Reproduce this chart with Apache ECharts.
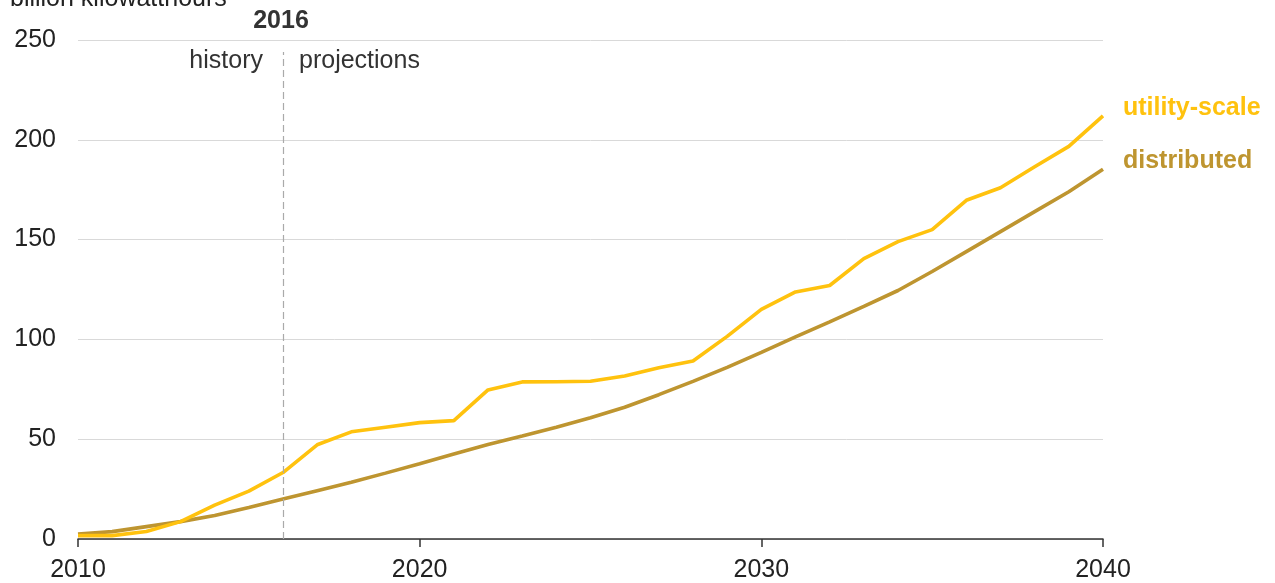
<!DOCTYPE html>
<html>
<head>
<meta charset="utf-8">
<script src="https://cdn.jsdelivr.net/npm/echarts@6/dist/echarts.min.js"></script>
<style>
  html, body { margin: 0; padding: 0; background: #fff; }
  #chart { width: 1275px; height: 583px; }
</style>
</head>
<body>
<div id="chart"></div>
<script>
const years = [2010, 2011, 2012, 2013, 2014, 2015, 2016, 2017, 2018, 2019, 2020,
  2021, 2022, 2023, 2024, 2025, 2026, 2027, 2028, 2029, 2030,
  2031, 2032, 2033, 2034, 2035, 2036, 2037, 2038, 2039, 2040];
const utilityScale = [1.7, 1.7, 3.8, 8.7, 17, 24, 33.3, 47.2, 53.7, 56, 58.3,
  59.3, 74.7, 78.7, 78.8, 79, 81.7, 85.8, 89.2, 101.5, 115,
  123.8, 127, 140.5, 149, 155, 169.7, 176, 186.5, 196.7, 212];
const distributed = [2.5, 3.7, 6.2, 8.7, 11.8, 15.8, 20, 24.2, 28.4, 33, 37.7,
  42.6, 47.3, 51.6, 56, 60.7, 66, 72.3, 79, 86, 93.5,
  101.3, 108.8, 116.5, 124.5, 134, 144, 154, 164, 174, 185.3];
const yTicks = [0, 50, 100, 150, 200, 250];
const splitYear = 2016;

const chart = echarts.init(document.getElementById('chart'));
const font = 'Liberation Sans, Arial, sans-serif';
const pair = arr => years.map((y, i) => [y, arr[i]]);

chart.setOption({
  animation: false,
  textStyle: { fontFamily: font },
  grid: { left: 78, right: 172, top: 40, bottom: 43 },
  xAxis: {
    type: 'value',
    min: 2010,
    max: 2040,
    interval: 10,
    axisLine: { lineStyle: { color: '#333', width: 1.5 } },
    axisTick: { show: true, length: 8, lineStyle: { color: '#333', width: 1.5 } },
    axisLabel: { color: '#222', fontSize: 25, margin: 19, formatter: v => String(v) },
    splitLine: { show: false }
  },
  yAxis: {
    type: 'value',
    min: yTicks[0],
    max: yTicks[yTicks.length - 1],
    interval: 50,
    axisLine: { show: false },
    axisTick: { show: false },
    axisLabel: { color: '#222', fontSize: 25, margin: 22 },
    splitLine: { lineStyle: { color: '#d9d9d9', width: 1 } }
  },
  series: [
    {
      name: 'utility-scale',
      type: 'line',
      data: pair(utilityScale),
      showSymbol: false,
      lineStyle: { color: '#FFC20E', width: 3.6 },
      itemStyle: { color: '#FFC20E' },
      z: 3,
      endLabel: {
        show: true,
        formatter: 'utility-scale',
        color: '#FFC20E',
        fontWeight: 'bold',
        fontSize: 25,
        offset: [12, -8]
      },
      markLine: {
        silent: true,
        symbol: 'none',
        lineStyle: { color: '#aaa', type: [7, 4], width: 1.2 },
        label: { show: false },
        data: [[{ coord: [splitYear, 0] }, { coord: [splitYear, 244] }]]
      }
    },
    {
      name: 'distributed',
      type: 'line',
      data: pair(distributed),
      showSymbol: false,
      lineStyle: { color: '#BE9530', width: 3.6 },
      itemStyle: { color: '#BE9530' },
      z: 2,
      endLabel: {
        show: true,
        formatter: 'distributed',
        color: '#BE9530',
        fontWeight: 'bold',
        fontSize: 25,
        offset: [12, -8]
      }
    }
  ]
});

// annotations placed from the axis scale
const splitX = chart.convertToPixel({ gridIndex: 0 }, [splitYear, 0])[0];
chart.setOption({
  graphic: [
    {
      type: 'text', left: 10, top: -13,
      style: { text: 'billion kilowatthours', font: '25px ' + font, fill: '#222' }
    },
    {
      type: 'text', x: splitX - 2, y: 21,
      style: { text: String(splitYear), font: 'bold 25px ' + font, fill: '#333', align: 'center', verticalAlign: 'middle' }
    },
    {
      type: 'text', x: splitX - 20, y: 61,
      style: { text: 'history', font: '25px ' + font, fill: '#333', align: 'right', verticalAlign: 'middle' }
    },
    {
      type: 'text', x: splitX + 16, y: 61,
      style: { text: 'projections', font: '25px ' + font, fill: '#333', align: 'left', verticalAlign: 'middle' }
    }
  ]
});

window.addEventListener('resize', () => chart.resize());
</script>
</body>
</html>
